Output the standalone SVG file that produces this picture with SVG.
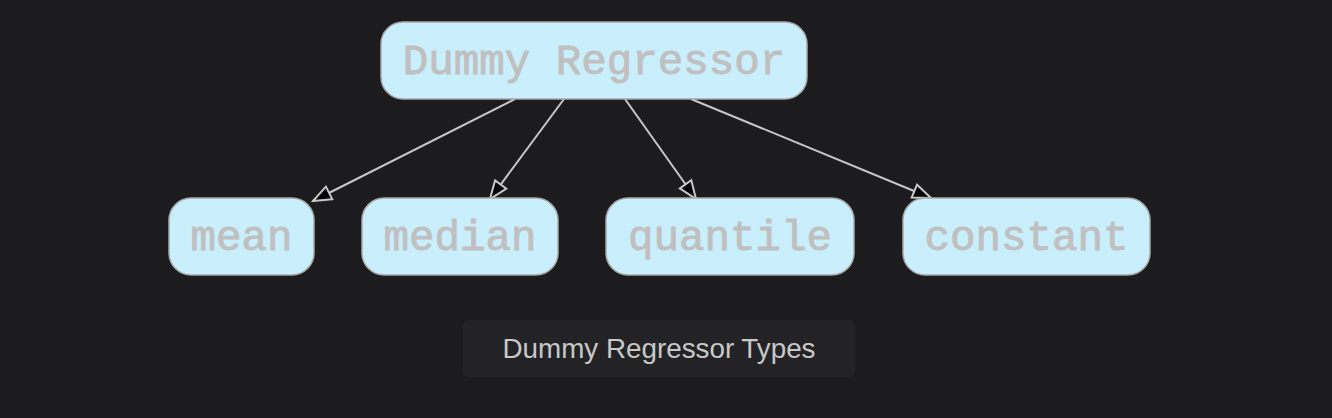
<svg xmlns="http://www.w3.org/2000/svg" width="1332" height="418" viewBox="0 0 1332 418">
<style>
.node rect{fill:#c9eefc;stroke:#a8a8a8;stroke-width:1.5}
.node text{font-family:"Liberation Mono","Courier New",monospace;font-size:42.5px;fill:#c0c0c0;stroke:#c0c0c0;stroke-width:0.9;text-anchor:middle}
.edge{stroke:#c8c8c8;stroke-width:2;fill:none;marker-end:url(#arr)}
</style>
<defs>
<marker id="arr" markerUnits="userSpaceOnUse" markerWidth="22" markerHeight="18" refX="18" refY="8" orient="auto" viewBox="-2 -1 22 18">
<path d="M0,1 L18,8 L0,15 Z" fill="#000" stroke="#c8c8c8" stroke-width="2" stroke-linejoin="miter"/>
</marker>
</defs>
<rect width="1332" height="418" fill="#1c1c1e"/>
<g id="connectors">
<line class="edge" x1="515" y1="99" x2="313" y2="201"/>
<line class="edge" x1="564" y1="99" x2="490" y2="199"/>
<line class="edge" x1="625" y1="99" x2="696" y2="199"/>
<line class="edge" x1="691" y1="99" x2="931" y2="198"/>
</g>
<g id="root" class="node"><rect x="381" y="22" width="426" height="77" rx="22"/><text x="594" y="74">Dummy Regressor</text></g>
<g id="mean" class="node"><rect x="169" y="198" width="145" height="77" rx="22"/><text x="241.5" y="250">mean</text></g>
<g id="median" class="node"><rect x="362" y="198" width="196" height="77" rx="22"/><text x="460" y="250">median</text></g>
<g id="quantile" class="node"><rect x="606" y="198" width="248" height="77" rx="22"/><text x="730" y="250">quantile</text></g>
<g id="constant" class="node"><rect x="903" y="198" width="247" height="77" rx="22"/><text x="1026.5" y="250">constant</text></g>
<g id="caption"><rect x="463" y="320" width="392" height="57" rx="5" fill="#232326"/><text x="659" y="358" font-family="Liberation Sans,Arial,sans-serif" font-size="27.8" fill="#c8c8c8" text-anchor="middle">Dummy Regressor Types</text></g>
</svg>
